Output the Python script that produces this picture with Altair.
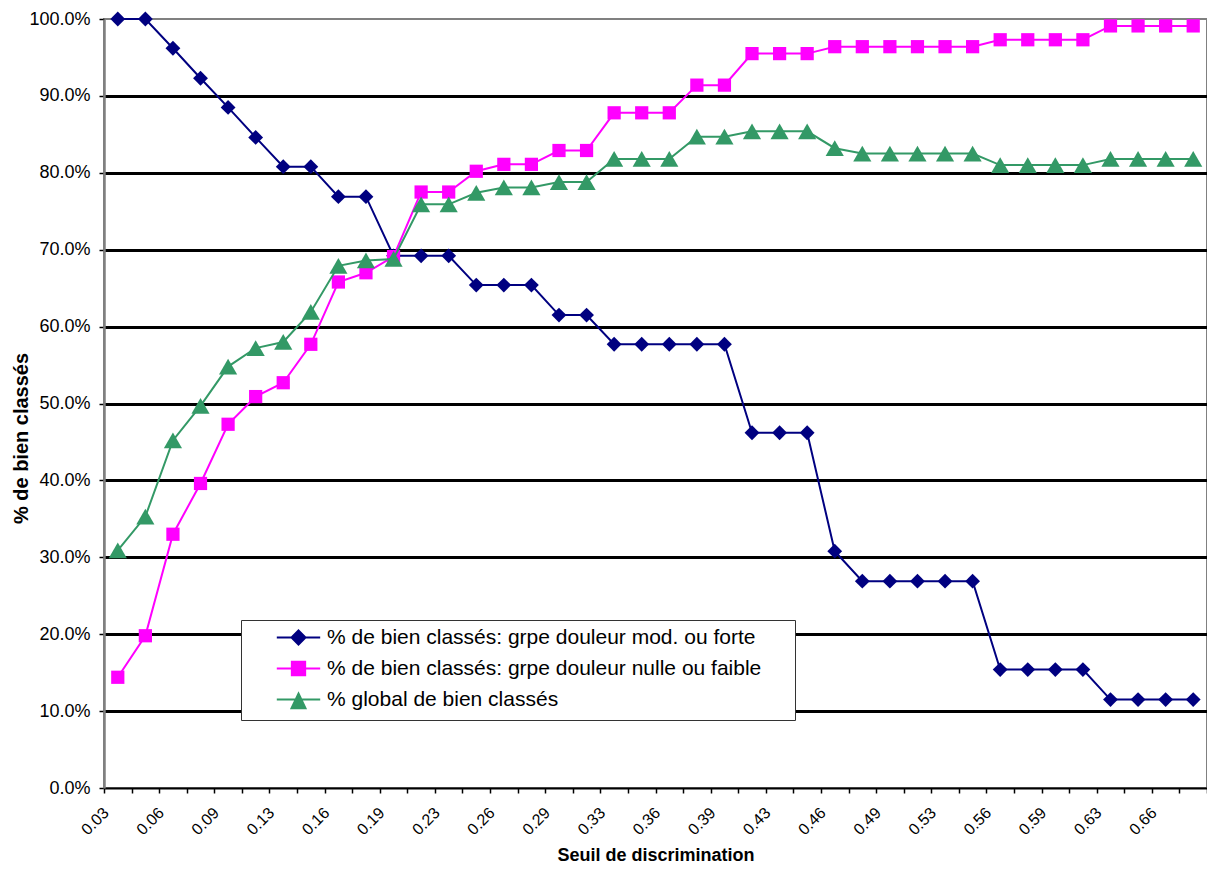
import altair as alt
import pandas as pd

# ---- data ----
seuils = ["0.03", "0.04", "0.06", "0.08", "0.09", "0.11", "0.13", "0.14", "0.16", "0.18",
          "0.19", "0.21", "0.23", "0.24", "0.26", "0.28", "0.29", "0.31", "0.33", "0.34",
          "0.36", "0.38", "0.39", "0.41", "0.43", "0.44", "0.46", "0.48", "0.49", "0.51",
          "0.53", "0.54", "0.56", "0.58", "0.59", "0.61", "0.63", "0.64", "0.66", "0.68"]

tick_labels = ["0.03", "0.06", "0.09", "0.13", "0.16", "0.19", "0.23", "0.26", "0.29", "0.33",
               "0.36", "0.39", "0.43", "0.46", "0.49", "0.53", "0.56", "0.59", "0.63", "0.66"]

serie_names = ["% de bien classés: grpe douleur mod. ou forte",
               "% de bien classés: grpe douleur nulle ou faible",
               "% global de bien classés"]

mod_forte = [100, 100, 96.2, 92.3, 88.5, 84.6, 80.8, 80.8, 76.9, 76.9,
             69.2, 69.2, 69.2, 65.4, 65.4, 65.4, 61.5, 61.5, 57.7, 57.7,
             57.7, 57.7, 57.7, 46.2, 46.2, 46.2, 30.8, 26.9, 26.9, 26.9,
             26.9, 26.9, 15.4, 15.4, 15.4, 15.4, 11.5, 11.5, 11.5, 11.5]

nulle_faible = [14.4, 19.8, 33.0, 39.6, 47.3, 50.9, 52.7, 57.7, 65.8, 67.0,
                69.1, 77.5, 77.5, 80.2, 81.1, 81.1, 82.9, 82.9, 87.8, 87.8,
                87.8, 91.4, 91.4, 95.5, 95.5, 95.5, 96.4, 96.4, 96.4, 96.4,
                96.4, 96.4, 97.3, 97.3, 97.3, 97.3, 99.1, 99.1, 99.1, 99.1]

global_ = [30.9, 35.3, 45.2, 49.7, 54.8, 57.2, 58.0, 61.9, 67.9, 68.6,
           68.8, 75.9, 75.9, 77.4, 78.1, 78.1, 78.8, 78.8, 81.8, 81.8,
           81.8, 84.7, 84.7, 85.4, 85.4, 85.4, 83.2, 82.5, 82.5, 82.5,
           82.5, 82.5, 81.0, 81.0, 81.0, 81.0, 81.8, 81.8, 81.8, 81.8]

y_ticks = [0.0, 0.1, 0.2, 0.3, 0.4, 0.5, 0.6, 0.7, 0.8, 0.9, 1.0]

colors = ["#000080", "#FF00FF", "#339966"]
shapes = ["diamond", "square", "triangle-up"]
sizes = [220, 175, 330]

rows = []
for name, vals in zip(serie_names, [mod_forte, nulle_faible, global_]):
    for s, v in zip(seuils, vals):
        rows.append({"seuil": s, "serie": name, "valeur": v / 100.0})
df = pd.DataFrame(rows)

FONT = "Liberation Sans"

label_list = ",".join("'" + t + "'" for t in tick_labels)
x_label_expr = "indexof([" + label_list + "], datum.label) >= 0 ? datum.label : ''"

# legend symbols: line with marker (Excel style)
p1 = "M-3.1,0H3.1M0,-1L1,0L0,1L-1,0Z"
p2 = "M-3.1,0H3.1M-0.95,-0.95H0.95V0.95H-0.95Z"
p3 = "M-3.1,0H3.1M0,-0.85L1,1.25L-1,1.25Z"
shape_expr = ("datum.index == 0 ? '" + p1 + "' : datum.index == 1 ? '" + p2 + "' : '" + p3 + "'")
col_expr = ("datum.index == 0 ? '" + colors[0] + "' : datum.index == 1 ? '" + colors[1]
            + "' : '" + colors[2] + "'")

legend = alt.Legend(
    # invisible spacer title on the right widens the box like the Excel legend
    title="xxxx",
    titleOrient="right",
    titleFontSize=10,
    titlePadding=4,
    titleOpacity=0,
    orient="none",
    legendX=137,
    legendY=601,
    direction="vertical",
    fillColor="white",
    strokeColor="#333333",
    padding=7,
    labelFont=FONT,
    labelFontSize=21,
    labelColor="black",
    labelLimit=800,
    labelOffset=18,
    symbolSize=196,
    symbolOffset=40,
    symbolStrokeWidth=2,
    symbolType={"expr": shape_expr},
    symbolStrokeColor={"expr": col_expr},
    symbolFillColor={"expr": col_expr},
    symbolOpacity=1,
    rowPadding=8,
)

x_enc = alt.X(
    "seuil:O",
    sort=seuils,
    bandPosition=0.5,
    scale=alt.Scale(type="band", paddingInner=0, paddingOuter=0),
    axis=alt.Axis(
        title="Seuil de discrimination",
        titleFont=FONT,
        titleFontSize=18,
        titleFontWeight="bold",
        titleColor="black",
        titleY=76,
        titleBaseline="bottom",
        tickBand="extent",
        tickSize=5,
        tickColor="black",
        tickWidth=1.5,
        domainColor="black",
        domainWidth=2,
        labelAngle=315,
        labelAlign="right",
        labelBaseline="middle",
        labelOffset=-12,
        labelPadding=17,
        labelFont=FONT,
        labelFontSize=16,
        labelColor="black",
        labelOverlap=False,
        labelExpr=x_label_expr,
        grid=False,
    ),
)

y_enc = alt.Y(
    "valeur:Q",
    scale=alt.Scale(domain=[0, 1], nice=False),
    axis=alt.Axis(
        title="% de bien classés",
        titleFont=FONT,
        titleFontSize=20,
        titleFontWeight="bold",
        titleColor="black",
        titleAngle=270,
        titleX=-77,
        titleY=419,
        titleBaseline="alphabetic",
        values=y_ticks,
        format=".1%",
        labelFont=FONT,
        labelFontSize=18,
        labelColor="black",
        labelPadding=9,
        tickSize=5,
        tickColor="black",
        tickWidth=1.5,
        domainColor="#808080",
        domainWidth=2.5,
        grid=True,
        gridColor="black",
        gridWidth=3,
        gridOpacity={"condition": {"test": "datum.value > 0.99 || datum.value < 0.01", "value": 0}, "value": 1},
    ),
)

color_enc = alt.Color("serie:N", scale=alt.Scale(domain=serie_names, range=colors), legend=legend)

base = alt.Chart(df).encode(x=x_enc, y=y_enc, color=color_enc)

layers = []
for name, shp, sz in zip(serie_names, shapes, sizes):
    sub = base.transform_filter(alt.datum.serie == name)
    layers.append(sub.mark_line(strokeWidth=2))
    layers.append(sub.mark_point(filled=True, opacity=1, shape=shp, size=sz))

chart = alt.layer(*layers).properties(
    width=1103,
    height=769,
    autosize=alt.AutoSizeParams(type="none"),
    padding={"left": 96, "top": 11, "right": 0, "bottom": 77},
    background="white",
).configure_view(stroke="#808080", strokeWidth=2)

chart.save("out.html", embed_options={"renderer": "svg", "actions": False})
